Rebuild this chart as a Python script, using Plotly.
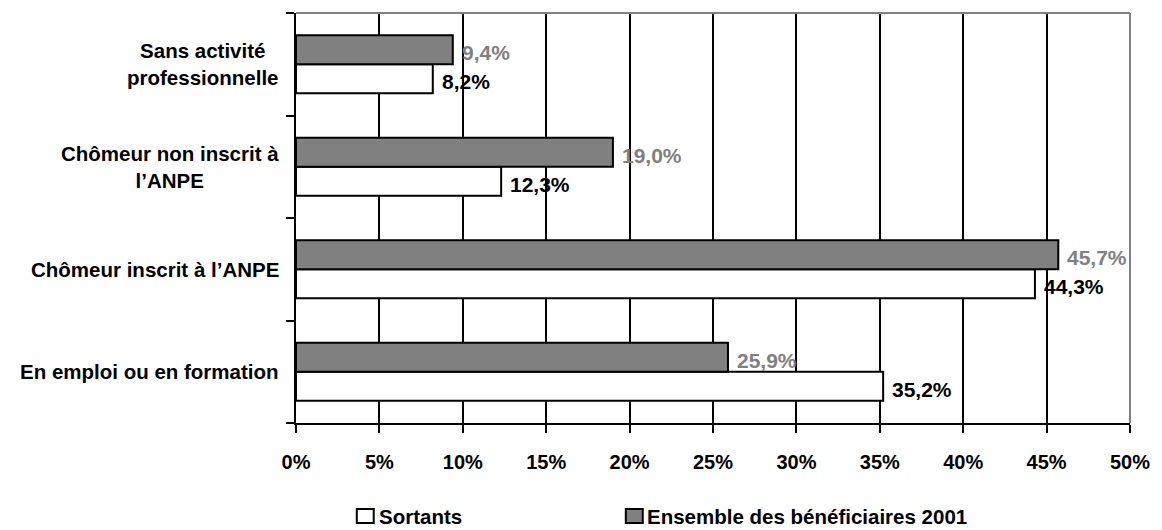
import plotly.graph_objects as go

# Categories listed bottom to top
categories = [
    "En emploi ou en formation",
    "Chômeur inscrit à l’ANPE",
    "Chômeur non inscrit à<br>l’ANPE",
    "Sans activité<br>professionnelle",
]
sortants = [35.2, 44.3, 12.3, 8.2]
ensemble = [25.9, 45.7, 19.0, 9.4]
series_names = ["Sortants", "Ensemble des bénéficiaires 2001"]
x_ticks = [0, 5, 10, 15, 20, 25, 30, 35, 40, 45, 50]

W, H = 1162, 530
ML, MR, MT, MB = 296, 29, 13, 107
PW, PH = W - ML - MR, H - MT - MB

FONT = "Arial, Liberation Sans, sans-serif"
GRAY = "#808080"
BARGAP = 0.434
half = (1 - BARGAP) / 4  # offset of each bar centre from the category centre

pos = list(range(len(categories)))


def px_to_paper(px, py):
    return (px - ML) / PW, (H - MB - py) / PH


def fmt(v):
    return f"{v:.1f}".replace(".", ",") + "%"


fig = go.Figure()
fig.add_trace(go.Bar(
    y=pos, x=sortants, orientation="h", name=series_names[0],
    marker=dict(color="white", line=dict(color="black", width=2)),
    showlegend=False,
))
fig.add_trace(go.Bar(
    y=pos, x=ensemble, orientation="h", name=series_names[1],
    marker=dict(color=GRAY, line=dict(color="black", width=2)),
    showlegend=False,
))

annotations = []
# value labels
for i, (s, e) in enumerate(zip(sortants, ensemble)):
    annotations.append(dict(
        x=s, y=i - half, xref="x", yref="y", text=fmt(s), showarrow=False,
        xanchor="left", yanchor="middle", xshift=7, yshift=-3,
        font=dict(family=FONT, size=21, color="black", weight="bold"),
    ))
    annotations.append(dict(
        x=e, y=i + half, xref="x", yref="y", text=fmt(e), showarrow=False,
        xanchor="left", yanchor="middle", xshift=7, yshift=-3,
        font=dict(family=FONT, size=21, color=GRAY, weight="bold"),
    ))
# category labels
for i, c in enumerate(categories):
    annotations.append(dict(
        x=0, y=i, xref="paper", yref="y", text=c, showarrow=False,
        xanchor="right", yanchor="middle", align="center", xshift=-15,
        font=dict(family=FONT, size=20.5, color="black", weight="bold"),
    ))

# legend drawn as swatches + labels
shapes = []
LEG_Y = 516
legend_items = [(357, 377, "white", series_names[0]), (627, 646, GRAY, series_names[1])]
for sx, tx, col, name in legend_items:
    x0, y0 = px_to_paper(sx, LEG_Y + 7)
    x1, y1 = px_to_paper(sx + 17, LEG_Y - 7)
    shapes.append(dict(type="rect", xref="paper", yref="paper", x0=x0, x1=x1, y0=y0, y1=y1,
                       fillcolor=col, line=dict(color="black", width=2)))
    tx_p, ty_p = px_to_paper(tx, LEG_Y)
    annotations.append(dict(
        x=tx_p, y=ty_p, xref="paper", yref="paper", text=name, showarrow=False,
        xanchor="left", yanchor="middle",
        font=dict(family=FONT, size=20.5, color="black", weight="bold"),
    ))

# gray frame on top and right
shapes.append(dict(type="line", xref="x domain", yref="y domain", x0=0, x1=1, y0=1, y1=1,
                   line=dict(color=GRAY, width=2)))
shapes.append(dict(type="line", xref="x domain", yref="y domain", x0=1, x1=1, y0=0, y1=1,
                   line=dict(color=GRAY, width=2)))

fig.update_layout(
    width=W, height=H,
    margin=dict(l=ML, r=MR, t=MT, b=MB),
    paper_bgcolor="white", plot_bgcolor="white",
    barmode="group", bargap=BARGAP, bargroupgap=0,
    annotations=annotations, shapes=shapes,
    font=dict(family=FONT, color="black"),
)
fig.update_xaxes(
    range=[0, 50], tickvals=x_ticks, ticktext=[f"{t}%" for t in x_ticks],
    showgrid=True, gridcolor="black", gridwidth=2, zeroline=False,
    showline=True, linecolor="black", linewidth=2,
    ticks="outside", ticklen=8, tickwidth=2, tickcolor="black",
    ticklabelstandoff=12,
    tickfont=dict(family=FONT, size=20, color="black", weight="bold"),
)
fig.update_yaxes(
    range=[-0.5, len(categories) - 0.5],
    tickvals=[p - 0.5 for p in pos] + [len(categories) - 0.5],
    ticktext=[""] * (len(categories) + 1),
    showgrid=False, zeroline=False,
    showline=True, linecolor="black", linewidth=2,
    ticks="outside", ticklen=8, tickwidth=2, tickcolor="black",
)

fig.write_html("out.html")
